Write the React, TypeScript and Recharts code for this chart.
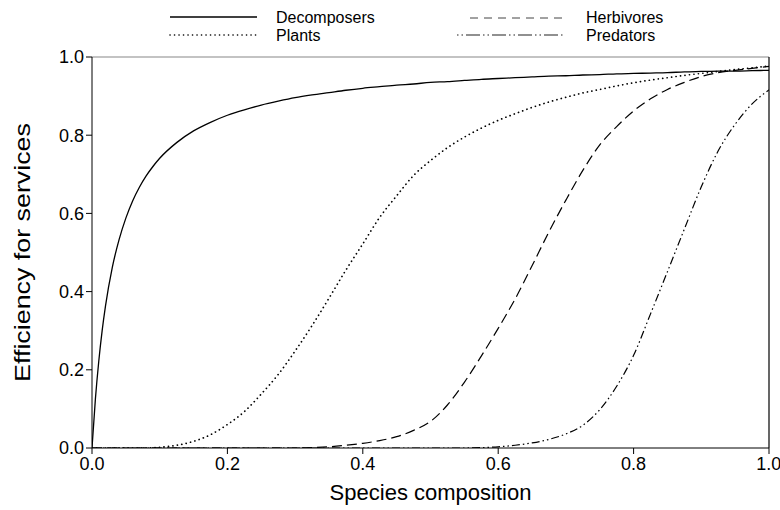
import React from 'react';
import { LineChart, Line, XAxis, YAxis, ReferenceLine } from 'recharts';

// species composition (shared x grid)
const xValues = [
  0, 0.005, 0.01, 0.015, 0.02, 0.03, 0.04, 0.05, 0.06, 0.07, 0.08, 0.09, 0.1,
  0.125, 0.15, 0.175, 0.2, 0.225, 0.25, 0.275, 0.3, 0.325, 0.35, 0.375, 0.4,
  0.425, 0.45, 0.475, 0.5, 0.525, 0.55, 0.575, 0.6, 0.625, 0.65, 0.675, 0.7,
  0.725, 0.75, 0.775, 0.8, 0.825, 0.85, 0.875, 0.9, 0.925, 0.95, 0.975, 1.0,
];

// values
const decomposers = [
  0, 0.125, 0.222, 0.3, 0.364, 0.462, 0.533, 0.588, 0.632, 0.667, 0.696, 0.72, 0.741,
  0.781, 0.811, 0.833, 0.851, 0.865, 0.877, 0.887, 0.896, 0.903, 0.909, 0.915, 0.92,
  0.924, 0.928, 0.931, 0.935, 0.937, 0.94, 0.943, 0.945, 0.947, 0.949, 0.951, 0.952,
  0.954, 0.955, 0.957, 0.958, 0.959, 0.96, 0.962, 0.963, 0.964, 0.964, 0.965, 0.966,
];

const plants = [
  0, 0, 0, 0, 0, 0, 0, 0, 0, 0, 0, 0.001, 0.002,
  0.007, 0.017, 0.034, 0.06, 0.093, 0.138, 0.188, 0.248, 0.313, 0.383, 0.455, 0.522,
  0.59, 0.645, 0.697, 0.735, 0.768, 0.795, 0.818, 0.838, 0.855, 0.871, 0.885, 0.897,
  0.908, 0.917, 0.926, 0.934, 0.941, 0.947, 0.953, 0.958, 0.963, 0.968, 0.972, 0.977,
];

const herbivores = [
  0, 0, 0, 0, 0, 0, 0, 0, 0, 0, 0, 0, 0,
  0, 0, 0, 0, 0, 0, 0, 0, 0.001, 0.003, 0.007, 0.012,
  0.019, 0.029, 0.045, 0.068, 0.11, 0.168, 0.235, 0.306, 0.381, 0.466, 0.553, 0.634,
  0.71, 0.775, 0.822, 0.862, 0.893, 0.917, 0.935, 0.95, 0.96, 0.966, 0.971, 0.976,
];

const predators = [
  0, 0, 0, 0, 0, 0, 0, 0, 0, 0, 0, 0, 0,
  0, 0, 0, 0, 0, 0, 0, 0, 0, 0, 0, 0,
  0, 0, 0, 0, 0, 0, 0.001, 0.003, 0.007, 0.013, 0.022, 0.036,
  0.058, 0.098, 0.158, 0.237, 0.343, 0.451, 0.56, 0.668, 0.76, 0.828, 0.88, 0.916,
];

const ticks = [0, 0.2, 0.4, 0.6, 0.8, 1.0];

const data = xValues.map((x, i) => ({
  x,
  decomposers: decomposers[i],
  plants: plants[i],
  herbivores: herbivores[i],
  predators: predators[i],
}));

const font = '"Liberation Sans", Arial, Helvetica, sans-serif';

const YLabel = (props: any) => {
  const vb = props.viewBox;
  const cx = vb.x + 22;
  const cy = vb.y + vb.height / 2;
  // the original is slightly stretched vertically
  return (
    <text
      x={0}
      y={0}
      transform={`translate(${cx} ${cy}) rotate(-90) scale(1.22 1)`}
      textAnchor="middle"
      dominantBaseline="central"
      fontSize={22}
      fontFamily={font}
      fill="#000"
    >
      Efficiency for services
    </text>
  );
};

const XLabel = (props: any) => {
  const vb = props.viewBox;
  return (
    <text
      x={vb.x + vb.width / 2}
      y={vb.y + 52}
      textAnchor="middle"
      fontSize={22}
      fontFamily={font}
      fill="#000"
    >
      Species composition
    </text>
  );
};

function ChartLegend() {
  const txt = { fontSize: 16, fontFamily: font, fill: '#000' };
  return (
    <svg width={780} height={52} style={{ position: 'absolute', left: 0, top: 0 }}>
      <line x1={170} x2={257} y1={17} y2={17} stroke="#000" strokeWidth={1.3} />
      <text x={276} y={22.5} {...txt}>Decomposers</text>
      <line x1={170} x2={257} y1={35} y2={35} stroke="#000" strokeWidth={1.6}
        strokeDasharray="0.1 4.4" strokeLinecap="round" />
      <text x={276} y={40.5} {...txt}>Plants</text>
      <line x1={470} x2={568} y1={18} y2={18} stroke="#444" strokeWidth={1}
        strokeDasharray="8 6" />
      <text x={586} y={22.5} {...txt}>Herbivores</text>
      <line x1={457} x2={565} y1={35} y2={35} stroke="#222" strokeWidth={1.1}
        strokeDasharray="1.5 3 1.5 3 14 3" />
      <text x={586} y={40.5} {...txt}>Predators</text>
    </svg>
  );
}

export default function App() {
  const tickStyle = { fontSize: 18, fontFamily: font, fill: '#000' };
  return (
    <div style={{ position: 'relative', width: 780, height: 510, background: '#fff' }}>
      <style>{'body{margin:0;background:#fff}'}</style>
      <LineChart
        width={780}
        height={510}
        data={data}
        margin={{ top: 57, right: 11, bottom: 0, left: 0 }}
      >
        <XAxis
          dataKey="x"
          type="number"
          domain={[0, 1]}
          ticks={ticks}
          tickFormatter={(v: number) => v.toFixed(1)}
          tick={tickStyle}
          tickSize={6}
          tickMargin={3}
          height={62}
          stroke="#000"
          allowDataOverflow
          label={{ content: XLabel }}
        />
        <YAxis
          type="number"
          domain={[0, 1]}
          ticks={ticks}
          tickFormatter={(v: number) => v.toFixed(1)}
          tick={tickStyle}
          tickSize={6}
          tickMargin={2}
          width={92}
          stroke="#000"
          allowDataOverflow
          label={{ content: YLabel }}
        />
        <ReferenceLine y={1} stroke="#888" strokeWidth={1.2} />
        <ReferenceLine x={1} stroke="#000" strokeWidth={1.2} />
        <Line type="monotone" dataKey="decomposers" stroke="#000" strokeWidth={1.3}
          dot={false} isAnimationActive={false} />
        <Line type="monotone" dataKey="plants" stroke="#000" strokeWidth={1.7}
          strokeDasharray="0.1 4.4" strokeLinecap="round" dot={false} isAnimationActive={false} />
        <Line type="monotone" dataKey="herbivores" stroke="#000" strokeWidth={1.2}
          strokeDasharray="10 5" dot={false} isAnimationActive={false} />
        <Line type="monotone" dataKey="predators" stroke="#000" strokeWidth={1.2}
          strokeDasharray="8 3 1.5 3 1.5 3" dot={false} isAnimationActive={false} />
      </LineChart>
      <ChartLegend />
    </div>
  );
}
